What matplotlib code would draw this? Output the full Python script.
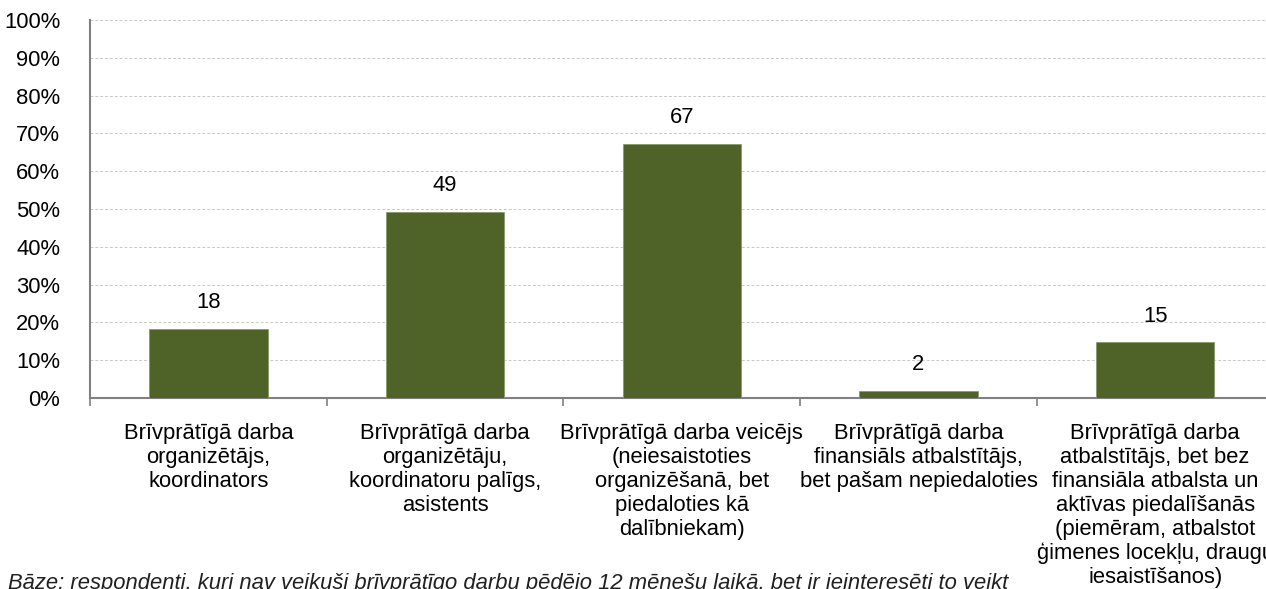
import numpy as np
import matplotlib
matplotlib.use("Agg")
import matplotlib.pyplot as plt
from matplotlib.ticker import FixedLocator, PercentFormatter

# dati
kategorijas = [
    "Brīvprātīgā darba\norganizētājs,\nkoordinators",
    "Brīvprātīgā darba\norganizētāju,\nkoordinatoru palīgs,\nasistents",
    "Brīvprātīgā darba veicējs\n(neiesaistoties\norganizēšanā, bet\npiedaloties kā\ndalībniekam)",
    "Brīvprātīgā darba\nfinansiāls atbalstītājs,\nbet pašam nepiedaloties",
    "Brīvprātīgā darba\natbalstītājs, bet bez\nfinansiāla atbalsta un\naktīvas piedalīšanās\n(piemēram, atbalstot\nģimenes locekļu, draugu\niesaistīšanos)",
]
vertibas = [18.3, 49.2, 67.3, 1.9, 14.7]
y_ticks = list(range(0, 101, 10))
piezime = "Bāze: respondenti, kuri nav veikuši brīvprātīgo darbu pēdējo 12 mēnešu laikā, bet ir ieinteresēti to veikt"

plt.rcParams['font.family'] = ['Liberation Sans', 'DejaVu Sans']
fs = 15.8

fig = plt.figure(figsize=(12.66, 5.89), dpi=100)
ax = fig.add_axes([90 / 1266, 191 / 589, 1183.5 / 1266, 378 / 589])

x = np.arange(len(vertibas))
bars = ax.bar(x, vertibas, width=0.5, color='#4F6228', edgecolor='#8a9a6a',
              linewidth=0.6, zorder=3)
for b, v in zip(bars, vertibas):
    ax.text(b.get_x() + b.get_width() / 2, v + 4.2, f"{v:.0f}",
            ha='center', va='bottom', fontsize=fs, color='black')

ax.set_xlim(-0.5, len(vertibas) - 0.5)
ax.set_ylim(0, 100)
ax.set_yticks(y_ticks)
ax.yaxis.set_major_formatter(PercentFormatter(decimals=0))
ax.tick_params(axis='y', length=0, pad=21.5, labelsize=fs)
ax.grid(axis='y', color='#c8c8c8', linestyle=(0, (3, 2)), linewidth=0.7, zorder=0)

ax.set_xticks(x)
ax.set_xticklabels(kategorijas, fontsize=fs, linespacing=1.18, va='top')
ax.tick_params(axis='x', which='major', length=0, pad=18)
ax.xaxis.set_minor_locator(FixedLocator(np.arange(-0.5, len(vertibas), 1.0)))
ax.tick_params(axis='x', which='minor', length=6, color='#808080', width=1.2)

for s in ['top', 'right']:
    ax.spines[s].set_visible(False)
for s in ['left', 'bottom']:
    ax.spines[s].set_color('#808080')
    ax.spines[s].set_linewidth(1.5)

fig.text(8 / 1266, 1 - 583 / 589, piezime, fontsize=fs, style='italic',
         ha='left', va='center', color='#202020')

fig.savefig("out.png", dpi=100)
